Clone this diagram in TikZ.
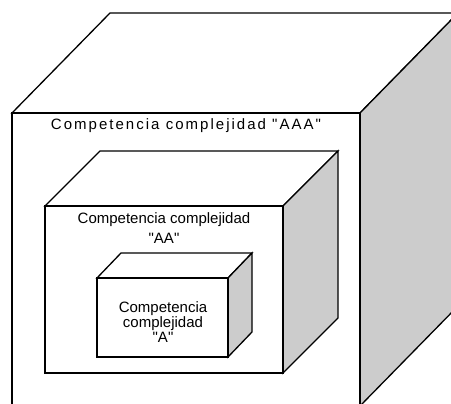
\documentclass[tikz,border=0pt]{standalone}
\usepackage{fontspec}
\setmainfont{Liberation Sans}[Ligatures=TeXOff]
\newfontfamily\spaced{Liberation Sans}[Ligatures=TeXOff, LetterSpace=13.5]
\usepackage{tikz}
\definecolor{ladogris}{RGB}{204,204,204}
\tikzset{
  cara/.style = {draw, line width=1.3pt, fill=white, line join=miter},
  lado/.style = {draw, line width=1.3pt, fill=ladogris, line join=miter},
  rotulo/.style = {align=center, inner sep=0pt, font=\fontsize{15}{20}\selectfont}
}

\begin{document}
\begin{tikzpicture}[x=1pt, y=-1pt]
\useasboundingbox (0,0) rectangle (451,404);
\clip (0,0) rectangle (451,404);
% cubo AAA
\draw[cara] (12,113) -- (110,13) -- (458,13) -- (360,113) -- cycle;
\draw[lado] (360,113) -- (458,13) -- (458,306) -- (360,406) -- cycle;
\draw[cara] (12,113) rectangle (360,406);
% cubo AA
\draw[cara] (45,206) -- (100,151) -- (338,151) -- (283,206) -- cycle;
\draw[lado] (283,206) -- (338,151) -- (338,318) -- (283,373) -- cycle;
\draw[cara] (45,206) rectangle (283,373);
% cubo A
\draw[cara] (97,278) -- (121,253) -- (252,253) -- (228,278) -- cycle;
\draw[lado] (228,278) -- (252,253) -- (252,332) -- (228,357) -- cycle;
\draw[cara] (97,278) rectangle (228,357);
% textos
\node[rotulo, font=\spaced\fontsize{15}{20}\selectfont] (tAAA) at (186,126) {Competencia complejidad "AAA"};
\node[rotulo] (tAA) at (164,228) {Competencia complejidad\\"AA"};
\node[rotulo, font=\fontsize{15}{15}\selectfont] (tA) at (163,322) {Competencia\\complejidad\\"A"};
\end{tikzpicture}
\end{document}
